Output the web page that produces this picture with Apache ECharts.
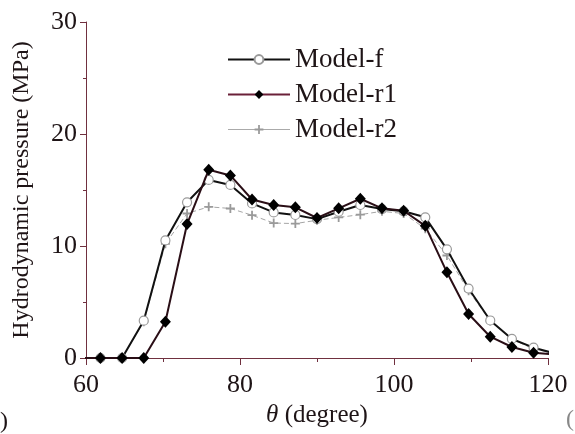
<!DOCTYPE html>
<html>
<head>
<meta charset="utf-8">
<script src="https://cdn.jsdelivr.net/npm/echarts@6/dist/echarts.min.js"></script>
<style>
  html, body { margin: 0; padding: 0; background: #fff; }
  #chart { width: 575px; height: 434px; }
</style>
</head>
<body>
<div id="chart"></div>
<script>
// Angular positions (degrees), one sample every 2.8125°
const theta = [59.0625, 61.875, 64.6875, 67.5, 70.3125, 73.125, 75.9375, 78.75, 81.5625, 84.375,
  87.1875, 90, 92.8125, 95.625, 98.4375, 101.25, 104.0625, 106.875, 109.6875, 112.5,
  115.3125, 118.125, 120.9375];

// Hydrodynamic pressure (MPa) for each model
const modelF  = [0, 0, 0, 3.33, 10.5, 13.9, 15.9, 15.45, 13.8, 13.0, 12.77, 12.4, 13.06, 13.66,
  13.3, 13.1, 12.56, 9.7, 6.2, 3.35, 1.7, 0.92, 0.4];
const modelR1 = [0, 0, 0, 0, 3.24, 11.96, 16.8, 16.3, 14.15, 13.66, 13.45, 12.5, 13.36, 14.22,
  13.36, 13.15, 11.8, 7.65, 3.93, 1.9, 0.98, 0.47, 0.3];
const modelR2 = [0, 0, 0, 3.24, 10.2, 12.9, 13.5, 13.35, 12.75, 12.05, 12.0, 12.3, 12.55, 12.8,
  13.1, 12.9, 11.55, 9.15, 6.0, 3.3, 1.7, 0.8, 0.45];

const seriesNames = ['Model-f', 'Model-r1', 'Model-r2'];
const xTicks = { min: 60, max: 120, step: 20 };
const yTicks = { min: 0, max: 30, step: 10 };

const serif = '"Liberation Serif", "Times New Roman", serif';
const axisColor = '#70303f';
const textColor = '#1e1416';

const pairs = (ys) => theta.map((t, i) => [t, ys[i]]);

const chart = echarts.init(document.getElementById('chart'), null, { renderer: 'canvas' });

chart.setOption({
  backgroundColor: '#ffffff',
  animation: false,
  grid: { left: 86, right: 27, top: 22, bottom: 76, containLabel: false },
  legend: {
    left: 227,
    top: 46,
    padding: 0,
    orient: 'vertical',
    itemWidth: 62,
    itemHeight: 11,
    itemGap: 8,
    textStyle: { fontFamily: serif, fontSize: 27, color: textColor, lineHeight: 27 },
    data: [
      { name: seriesNames[0], lineStyle: { color: '#111', width: 2 } },
      { name: seriesNames[1], lineStyle: { color: '#6a2038', width: 2 } },
      { name: seriesNames[2], lineStyle: { color: '#aaa', width: 1, type: 'solid' } }
    ]
  },
  xAxis: {
    type: 'value',
    min: xTicks.min,
    max: xTicks.max,
    interval: xTicks.step,
    name: '{i|θ} {n|(degree)}',
    nameLocation: 'middle',
    nameGap: 40,
    nameTextStyle: {
      fontFamily: serif,
      fontSize: 25,
      color: textColor,
      rich: {
        i: { fontFamily: serif, fontSize: 25, fontStyle: 'italic', color: textColor },
        n: { fontFamily: serif, fontSize: 25, color: textColor }
      }
    },
    axisLine: { show: true, lineStyle: { color: axisColor, width: 1 } },
    axisTick: { show: true, inside: false, length: 7, lineStyle: { color: axisColor } },
    minorTick: { show: true, splitNumber: 2, length: 4, lineStyle: { color: axisColor } },
    axisLabel: { fontFamily: serif, fontSize: 26, color: textColor, margin: 14 },
    splitLine: { show: false }
  },
  yAxis: {
    type: 'value',
    min: yTicks.min,
    max: yTicks.max,
    interval: yTicks.step,
    name: 'Hydrodynamic pressure (MPa)',
    nameLocation: 'middle',
    nameGap: 52,
    nameTextStyle: { fontFamily: serif, fontSize: 24, color: textColor },
    axisLine: { show: true, lineStyle: { color: axisColor, width: 1 } },
    axisTick: { show: true, inside: false, length: 6, lineStyle: { color: axisColor } },
    minorTick: { show: true, splitNumber: 2, length: 3, lineStyle: { color: axisColor } },
    axisLabel: { fontFamily: serif, fontSize: 26, color: textColor, margin: 9 },
    splitLine: { show: false }
  },
  series: [
    {
      name: seriesNames[0],
      type: 'line',
      z: 3,
      data: pairs(modelF),
      clip: true,
      symbol: 'circle',
      symbolSize: 9,
      showAllSymbol: true,
      lineStyle: { color: '#111', width: 2 },
      itemStyle: { color: '#ffffff', borderColor: '#9a9a9a', borderWidth: 1.2 }
    },
    {
      name: seriesNames[1],
      type: 'line',
      z: 4,
      data: pairs(modelR1),
      clip: true,
      symbol: 'diamond',
      symbolSize: [11, 12],
      showAllSymbol: true,
      lineStyle: { color: '#2a0e16', width: 2 },
      itemStyle: { color: '#000000', borderColor: '#000000', borderWidth: 0 }
    },
    {
      name: seriesNames[2],
      type: 'line',
      z: 2,
      data: pairs(modelR2),
      clip: true,
      symbol: 'path://M4,0H6V4H10V6H6V10H4V6H0V4H4Z',
      symbolSize: 9,
      showAllSymbol: true,
      lineStyle: { color: '#a5a5a5', width: 1, type: [5, 3] },
      itemStyle: { color: '#9a9a9a' }
    }
  ],
  graphic: [
    { type: 'text', left: 0, top: 410, style: { text: ')', fontFamily: serif, fontSize: 24, fill: textColor } },
    { type: 'text', left: 566, top: 408, style: { text: '(', fontFamily: serif, fontSize: 24, fill: '#888' } }
  ]
});
</script>
</body>
</html>
